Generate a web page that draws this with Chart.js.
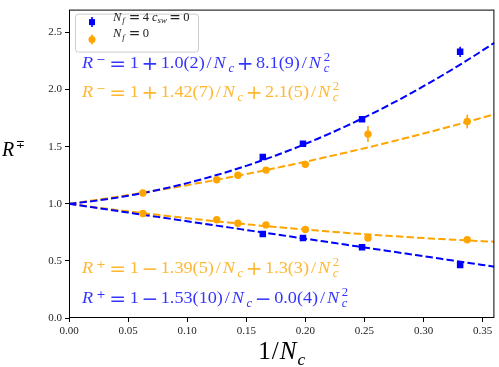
<!DOCTYPE html>
<html>
<head>
<meta charset="utf-8">
<script src="https://cdn.jsdelivr.net/npm/chart.js@4.4.1/dist/chart.umd.min.js"></script>
<style>html,body{margin:0;padding:0;background:#fff}canvas{display:block}</style>
</head>
<body>
<canvas id="c" width="499" height="367"></canvas>
<script>
// data: R^- (upper branch) and R^+ (lower branch) vs 1/Nc
var blueX = [0.164, 0.198, 0.248, 0.331];
var blueMinus = [1.41, 1.525, 1.74, 2.33];
var blueMinusErr = [0.02, 0.02, 0.025, 0.045];
var bluePlus = [0.735, 0.70, 0.62, 0.465];
var bluePlusErr = [0.015, 0.015, 0.015, 0.015];

var orangeX = [0.0625, 0.125, 0.1429, 0.1667, 0.2, 0.253, 0.337];
var orangeMinus = [1.095, 1.21, 1.25, 1.295, 1.345, 1.61, 1.72];
var orangeMinusErr = [0.01, 0.01, 0.01, 0.01, 0.015, 0.07, 0.06];
var orangePlus = [0.915, 0.86, 0.83, 0.815, 0.775, 0.70, 0.685];
var orangePlusErr = [0.01, 0.01, 0.01, 0.01, 0.01, 0.025, 0.01];

// fit coefficients [c0, c1, c2] : R = c0 + c1/Nc + c2/Nc^2 (as printed in the figure)
var fitBlueMinus = [1, 1.0, 8.1];
var fitOrangeMinus = [1, 1.42, 2.1];
var fitOrangePlus = [1, -1.39, 1.3];
var fitBluePlus = [1, -1.53, 0.0];

var xTicks = [0, 0.05, 0.10, 0.15, 0.20, 0.25, 0.30, 0.35];
var yTicks = [0, 0.5, 1.0, 1.5, 2.0, 2.5];

var BLUE = '#0000ff', ORANGE = '#ffa500';
var BLUE_TXT = 'rgba(0,0,255,0.8)', ORANGE_TXT = 'rgba(255,165,0,0.8)';
var SERIF = '"Liberation Serif", "DejaVu Serif", serif';
var SANS = '"DejaVu Sans", sans-serif';

function fitCurve(c) {
    var pts = [];
    for (var i = 0; i <= 72; i++) {
        var x = i * 0.005;
        pts.push({ x: x, y: c[0] + c[1] * x + c[2] * x * x });
    }
    return pts;
}
function pairs(xs, ys) {
    return xs.map(function (x, i) { return { x: x, y: ys[i] }; });
}

// tiny TeX-like text layout: italic letters, sub/superscripts, spaced operators
function drawMath(ctx, x0, y0, segs, size, color, measureOnly, stretch) {
    var k = stretch || 1;
    var x = 0, y = 0;
    ctx.save();
    ctx.translate(x0, y0);
    ctx.scale(k, 1);
    ctx.fillStyle = color;
    ctx.textAlign = 'left';
    ctx.textBaseline = 'alphabetic';
    segs.forEach(function (s) {
        if (s.op) {
            var g = size * (s.rel ? 5 : 4) / 18 - size * 0.08;
            ctx.font = (size * 1.1) + 'px ' + SANS;
            x += g;
            if (!measureOnly) ctx.fillText(s.op, x, y + size * 0.1);
            x += ctx.measureText(s.op).width + g;
            return;
        }
        var small = s.sub || s.sup;
        var sz = size * (s.scale || (small ? 0.7 : 1));
        ctx.font = (s.it ? 'italic ' : '') + sz + 'px ' + (s.sans ? SANS : SERIF);
        var dy = s.dy != null ? s.dy * size : (s.sub ? size * 0.22 : (s.sup ? -size * 0.42 : 0));
        x += s.pad || 0;
        var w = ctx.measureText(s.t).width;
        if (!measureOnly) ctx.fillText(s.t, x, y + dy);
        if (s.sup2) {
            ctx.font = sz + 'px ' + SERIF;
            if (!measureOnly) ctx.fillText(s.sup2, x, y - size * 0.42);
            w = Math.max(w, ctx.measureText(s.sup2).width);
        }
        x += w + (s.pad || 0) + (s.gap || 0);
    });
    ctx.restore();
    return x * k;
}

function formula(sup, c1, op2, c2) {
    return [
        { t: 'R', it: true, gap: 3 },
        { t: sup, sans: true, scale: 0.62, dy: -0.3 },
        { op: '=', rel: true },
        { t: '1' },
        { op: c1[0] },
        { t: c1.slice(1) },
        { t: '/', pad: 1.8 },
        { t: 'N', it: true, gap: 2.5 },
        { t: 'c', it: true, sub: true },
        { op: op2 },
        { t: c2 },
        { t: '/', pad: 1.8 },
        { t: 'N', it: true, gap: 2.5 },
        { t: 'c', it: true, sub: true, sup2: '2' }
    ];
}

var texts = [
    { segs: formula('\u2212', '+1.0(2)', '+', '8.1(9)'), color: BLUE_TXT, x: 82, y: 68 },
    { segs: formula('\u2212', '+1.42(7)', '+', '2.1(5)'), color: ORANGE_TXT, x: 82, y: 97 },
    { segs: formula('+', '\u22121.39(5)', '+', '1.3(3)'), color: ORANGE_TXT, x: 82, y: 273 },
    { segs: formula('+', '\u22121.53(10)', '\u2212', '0.0(4)'), color: BLUE_TXT, x: 82, y: 303 }
];

var errBars = {
    id: 'errBars',
    beforeDatasetDraw: function (chart, args) {
        var ds = chart.data.datasets[args.index];
        if (!ds.err) return;
        var ctx = chart.ctx, xs = chart.scales.x, ys = chart.scales.y;
        ctx.save();
        ctx.strokeStyle = ds.backgroundColor;
        ctx.lineWidth = 1.6;
        ds.data.forEach(function (p, i) {
            var px = xs.getPixelForValue(p.x);
            ctx.beginPath();
            ctx.moveTo(px, ys.getPixelForValue(p.y - ds.err[i]));
            ctx.lineTo(px, ys.getPixelForValue(p.y + ds.err[i]));
            ctx.stroke();
        });
        ctx.restore();
    }
};

var decor = {
    id: 'decor',
    afterDraw: function (chart) {
        var ctx = chart.ctx, a = chart.chartArea;
        ctx.save();
        ctx.strokeStyle = '#000';
        ctx.lineWidth = 1;
        ctx.strokeRect(a.left + 0.5, a.top + 0.5, a.right - a.left - 1, a.bottom - a.top - 1);
        ctx.restore();

        texts.forEach(function (t) { drawMath(ctx, t.x, t.y, t.segs, 17, t.color, false, 1.07); });

        // legend box
        ctx.save();
        ctx.fillStyle = 'rgba(255,255,255,0.8)';
        ctx.strokeStyle = '#cccccc';
        ctx.lineWidth = 1;
        ctx.beginPath();
        ctx.roundRect(a.left + 6.5, a.top + 4.5, 123, 38, 3);
        ctx.fill();
        ctx.stroke();
        var mx = a.left + 23;
        ctx.strokeStyle = BLUE; ctx.fillStyle = BLUE; ctx.lineWidth = 1.6;
        ctx.beginPath(); ctx.moveTo(mx, a.top + 7.5); ctx.lineTo(mx, a.top + 17.5); ctx.stroke();
        ctx.fillRect(mx - 3, a.top + 9.5, 6, 6);
        ctx.strokeStyle = ORANGE; ctx.fillStyle = ORANGE;
        ctx.beginPath(); ctx.moveTo(mx, a.top + 25); ctx.lineTo(mx, a.top + 35); ctx.stroke();
        ctx.beginPath(); ctx.arc(mx, a.top + 30, 3.5, 0, Math.PI * 2); ctx.fill();
        ctx.restore();
        drawMath(ctx, 113, 20.5, [
            { t: 'N', it: true, gap: 1 }, { t: 'f', it: true, sub: true, gap: 1.5 }, { op: '=', rel: true },
            { t: '4', gap: 3 }, { t: 'c', it: true }, { t: 'sw', it: true, sub: true }, { op: '=', rel: true }, { t: '0' }
        ], 12.5, '#222');
        drawMath(ctx, 113, 37, [
            { t: 'N', it: true, gap: 1 }, { t: 'f', it: true, sub: true, gap: 1.5 }, { op: '=', rel: true }, { t: '0' }
        ], 12.5, '#222');

        // axis titles
        drawMath(ctx, 2, 156, [{ t: 'R', it: true, gap: 1.5 }, { t: '\u2213', sans: true, scale: 0.55, dy: -0.42 }], 20, '#000');
        var xl = [{ t: '1' }, { t: '/', pad: 1 }, { t: 'N', it: true, gap: 1 }, { t: 'c', it: true, sub: true }];
        var w = drawMath(ctx, 0, 0, xl, 25, '#000', true);
        drawMath(ctx, (a.left + a.right) / 2 - w / 2, 359, xl, 25, '#000');
    }
};

function keepTicks(list) {
    return function (scale) {
        scale.ticks = list.map(function (v) { return { value: v }; });
    };
}

var tickFont = { family: SERIF, size: 11 };
var dash = [7.4, 3.2];

new Chart(document.getElementById('c'), {
    type: 'scatter',
    data: {
        datasets: [
            { type: 'line', data: fitCurve(fitBlueMinus), borderColor: BLUE, borderWidth: 2, borderDash: dash, pointRadius: 0, fill: false, order: 5 },
            { type: 'line', data: fitCurve(fitBluePlus), borderColor: BLUE, borderWidth: 2, borderDash: dash, pointRadius: 0, fill: false, order: 5 },
            { type: 'line', data: fitCurve(fitOrangeMinus), borderColor: ORANGE, borderWidth: 2, borderDash: dash, pointRadius: 0, fill: false, order: 6 },
            { type: 'line', data: fitCurve(fitOrangePlus), borderColor: ORANGE, borderWidth: 2, borderDash: dash, pointRadius: 0, fill: false, order: 6 },
            { data: pairs(blueX, blueMinus), err: blueMinusErr, backgroundColor: BLUE, borderColor: BLUE, pointStyle: 'rect', pointRadius: 4.6, borderWidth: 0, order: 1 },
            { data: pairs(blueX, bluePlus), err: bluePlusErr, backgroundColor: BLUE, borderColor: BLUE, pointStyle: 'rect', pointRadius: 4.6, borderWidth: 0, order: 1 },
            { data: pairs(orangeX, orangeMinus), err: orangeMinusErr, backgroundColor: ORANGE, borderColor: ORANGE, pointStyle: 'circle', pointRadius: 3.7, borderWidth: 0, order: 2 },
            { data: pairs(orangeX, orangePlus), err: orangePlusErr, backgroundColor: ORANGE, borderColor: ORANGE, pointStyle: 'circle', pointRadius: 3.7, borderWidth: 0, order: 2 }
        ]
    },
    options: {
        responsive: false,
        animation: false,
        layout: { padding: { top: 5, right: 4, left: 0, bottom: 0 } },
        plugins: { legend: { display: false }, tooltip: { enabled: false } },
        scales: {
            x: {
                type: 'linear', min: 0, max: 0.36,
                afterBuildTicks: keepTicks(xTicks),
                afterFit: function (s) { s.height = 49; },
                grid: { drawOnChartArea: false, drawTicks: true, tickLength: 4, tickColor: '#000' },
                border: { display: false },
                ticks: { font: tickFont, color: '#222', padding: 3, maxRotation: 0, callback: function (v) { return v.toFixed(2); } }
            },
            y: {
                type: 'linear', min: 0, max: 2.7,
                afterBuildTicks: keepTicks(yTicks),
                afterFit: function (s) { s.width = 69; },
                grid: { drawOnChartArea: false, drawTicks: true, tickLength: 4, tickColor: '#000' },
                border: { display: false },
                ticks: { font: tickFont, color: '#222', padding: 3, callback: function (v) { return v.toFixed(1); } }
            }
        }
    },
    plugins: [errBars, decor]
});
</script>
</body>
</html>
